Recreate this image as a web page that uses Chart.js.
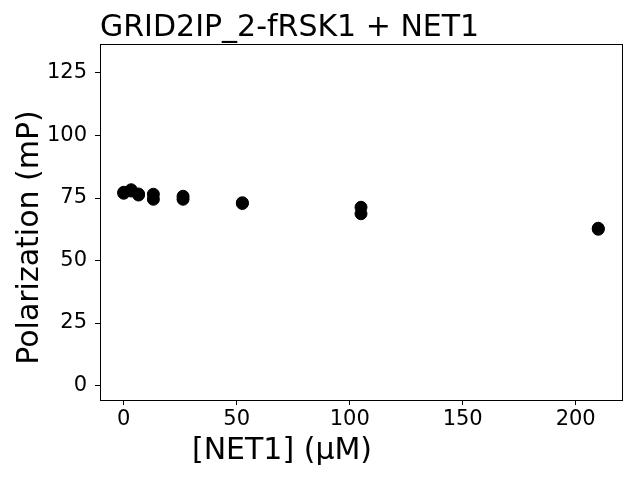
<!DOCTYPE html>
<html>
<head>
<meta charset="utf-8">
<script src="https://cdn.jsdelivr.net/npm/chart.js@4/dist/chart.umd.min.js"></script>
<style>
html,body{margin:0;padding:0;background:#fff;}
#wrap{width:640px;height:480px;}
</style>
</head>
<body>
<div id="wrap"><canvas id="c" width="640" height="480"></canvas></div>
<script>
const chartTitle = "GRID2IP_2-fRSK1 + NET1";
const xLabel = "[NET1] (\u03bcM)";
const yLabel = "Polarization (mP)";
const concentrations = [0, 3.28, 6.56, 13.125, 26.25, 52.5, 105, 210];
const replicate1 = [76.9, 78.3, 76.2, 76.5, 75.7, 73.1, 71.3, 62.9];
const replicate2 = [77.3, 77.8, 76.6, 74.5, 74.5, 72.8, 68.7, 62.5];
const xTicks = [0, 50, 100, 150, 200];
const yTicks = [0, 25, 50, 75, 100, 125];

const FONT = "'DejaVu Sans', sans-serif";

const textPlugin = {
  id: 'frameAndText',
  afterDraw(chart) {
    const {ctx, chartArea: a} = chart;
    ctx.save();
    ctx.strokeStyle = '#000';
    ctx.lineWidth = 1;
    ctx.strokeRect(Math.round(a.left) + 0.5, Math.round(a.top) + 0.5,
                   Math.round(a.right - a.left), Math.round(a.bottom - a.top));
    ctx.fillStyle = '#000';
    ctx.textBaseline = 'alphabetic';
    // chart title
    ctx.font = "30px " + FONT;
    ctx.textAlign = 'left';
    ctx.fillText(chartTitle, a.left, 36);
    // x axis title
    ctx.textAlign = 'center';
    ctx.fillText(xLabel, 282, 459);
    // y axis title
    ctx.translate(38, 237.5);
    ctx.rotate(-Math.PI / 2);
    ctx.fillText(yLabel, 0, 0);
    ctx.restore();
  }
};

const toPts = (ys) => concentrations.map((x, i) => ({x: x, y: ys[i]}));

new Chart(document.getElementById('c'), {
  type: 'scatter',
  data: {
    datasets: [
      {data: toPts(replicate1), backgroundColor: '#000', borderColor: '#000', pointRadius: 6, pointBorderWidth: 1},
      {data: toPts(replicate2), backgroundColor: '#000', borderColor: '#000', pointRadius: 6, pointBorderWidth: 1}
    ]
  },
  options: {
    responsive: false,
    animation: false,
    devicePixelRatio: 1,
    layout: {padding: {left: 0, right: 18, top: 44, bottom: 0}},
    plugins: {legend: {display: false}, tooltip: {enabled: false}, title: {display: false}},
    scales: {
      x: {
        type: 'linear',
        min: -10.5, max: 220.5,
        afterBuildTicks: (s) => { s.ticks = xTicks.map(v => ({value: v})); },
        afterFit: (s) => { s.height = 80; },
        grid: {display: true, drawOnChartArea: false, drawTicks: true, tickLength: 5, color: '#000'},
        border: {display: true, color: '#000'},
        ticks: {color: '#000', font: {family: FONT, size: 21}, padding: 2, maxRotation: 0},
        title: {display: false}
      },
      y: {
        type: 'linear',
        min: -5.8, max: 136.6,
        afterBuildTicks: (s) => { s.ticks = yTicks.map(v => ({value: v})); },
        afterFit: (s) => { s.width = 100; },
        grid: {display: true, drawOnChartArea: false, drawTicks: true, tickLength: 5, color: '#000'},
        border: {display: true, color: '#000'},
        ticks: {color: '#000', font: {family: FONT, size: 21}, padding: 8},
        title: {display: false}
      }
    }
  },
  plugins: [textPlugin]
});
</script>
</body>
</html>
